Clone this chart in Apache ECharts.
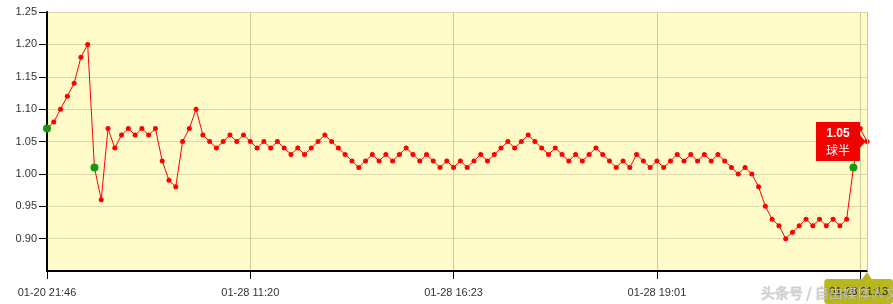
<!DOCTYPE html>
<html>
<head>
<meta charset="utf-8">
<script src="https://cdn.jsdelivr.net/npm/echarts@6/dist/echarts.min.js"></script>
<style>
html,body{margin:0;padding:0;background:#fff;}
#c{width:893px;height:304px;}
</style>
</head>
<body>
<div id="c"></div>
<script>
// ---- data ----
const values = [
  1.07,1.08,1.10,1.12,1.14,1.18,1.20,1.01,0.96,1.07,
  1.04,1.06,1.07,1.06,1.07,1.06,1.07,1.02,0.99,0.98,
  1.05,1.07,1.10,1.06,1.05,1.04,1.05,1.06,1.05,1.06,
  1.05,1.04,1.05,1.04,1.05,1.04,1.03,1.04,1.03,1.04,
  1.05,1.06,1.05,1.04,1.03,1.02,1.01,1.02,1.03,1.02,
  1.03,1.02,1.03,1.04,1.03,1.02,1.03,1.02,1.01,1.02,
  1.01,1.02,1.01,1.02,1.03,1.02,1.03,1.04,1.05,1.04,
  1.05,1.06,1.05,1.04,1.03,1.04,1.03,1.02,1.03,1.02,
  1.03,1.04,1.03,1.02,1.01,1.02,1.01,1.03,1.02,1.01,
  1.02,1.01,1.02,1.03,1.02,1.03,1.02,1.03,1.02,1.03,
  1.02,1.01,1.00,1.01,1.00,0.98,0.95,0.93,0.92,0.90,
  0.91,0.92,0.93,0.92,0.93,0.92,0.93,0.92,0.93,1.01,
  1.07,1.05
];
const highlightIdx = [0, 7, 119];
const tickIndex = [0, 30, 60, 90, 120];
const tickLabels = ['01-20 21:46', '01-28 11:20', '01-28 16:23', '01-28 19:01', '01-28 21:13'];
const pointerLabel = '01-28 21:13';
const tipValue = '1.05';
const tipText = '球半';
const watermark = '头条号 / 自由媒体人文文';
const yMin = 0.85, yMax = 1.25, yStep = 0.05;

// ---- build ----
const lastIdx = values.length - 1;
const categories = values.map((v, i) => {
  const k = tickIndex.indexOf(i);
  if (k >= 0) return tickLabels[k];
  if (i === lastIdx) return pointerLabel;
  return 'p' + i;
});
const seriesData = values.map((v, i) =>
  highlightIdx.indexOf(i) >= 0
    ? { value: v, symbolSize: 8, itemStyle: { color: '#129a12' } }
    : v
);
const showTick = (idx) => tickIndex.indexOf(idx) >= 0;

const chart = echarts.init(document.getElementById('c'), null, { renderer: 'canvas' });
chart.setOption({
  animation: false,
  backgroundColor: '#fff',
  grid: { left: 47, right: 26, top: 12, bottom: 33, show: true, backgroundColor: '#fffcca', borderWidth: 0 },
  xAxis: {
    type: 'category',
    data: categories,
    boundaryGap: false,
    axisLine: { lineStyle: { color: '#000', width: 2 } },
    axisTick: { interval: showTick, length: 8, lineStyle: { color: '#000', width: 1 } },
    axisLabel: { interval: showTick, color: '#333', fontSize: 11, fontFamily: 'Liberation Sans, Arial, sans-serif', margin: 16 },
    splitLine: { show: true, interval: showTick, lineStyle: { color: '#cfcca0', width: 1 } },
    axisPointer: {
      show: true, type: 'line', value: lastIdx, status: 'show', snap: false, triggerTooltip: false,
      lineStyle: { color: '#d8d23a', width: 1, type: 'solid' },
      label: {
        show: true, formatter: () => pointerLabel, backgroundColor: '#b9b71c', color: '#222',
        fontSize: 11, fontFamily: 'Liberation Sans, Arial, sans-serif', padding: [7, 5, 7, 5], margin: 9
      },
      handle: { show: false }
    }
  },
  yAxis: {
    type: 'value', min: yMin, max: yMax, interval: yStep,
    axisLine: { show: true, lineStyle: { color: '#000', width: 2 } },
    axisTick: { show: true, length: 8, lineStyle: { color: '#000', width: 1 } },
    axisLabel: { color: '#333', fontSize: 11, fontFamily: 'Liberation Sans, Arial, sans-serif', margin: 10, showMinLabel: false,
      formatter: (v) => v.toFixed(2) },
    splitLine: { show: true, lineStyle: { color: '#dcd8aa', width: 1 } }
  },
  series: [{
    type: 'line',
    data: seriesData,
    symbol: 'circle',
    symbolSize: 5,
    showAllSymbol: true,
    lineStyle: { color: '#f00', width: 1 },
    itemStyle: { color: '#f00' },
    z: 3
  }]
});

// annotations computed from the chart's own scales
const p = chart.convertToPixel({ xAxisIndex: 0, yAxisIndex: 0 }, [lastIdx, values[lastIdx]]);
const axisY = chart.convertToPixel({ yAxisIndex: 0 }, yMin);
const bw = 44, bh = 39, gap = 7;
const bx = p[0] - gap - bw, by = p[1] - bh / 2;
chart.setOption({
  graphic: [
    { type: 'rect', z: 100, shape: { x: bx, y: by, width: bw, height: bh }, style: { fill: '#f40000' } },
    { type: 'polygon', z: 100, shape: { points: [[bx + bw, p[1] - 6.5], [p[0] - 1.5, p[1]], [bx + bw, p[1] + 6.5]] }, style: { fill: '#f40000' } },
    { type: 'text', z: 101, x: bx + bw / 2, y: by + 12, style: { text: tipValue, fill: '#fff', font: 'bold 12px Liberation Sans, Arial, sans-serif', align: 'center', verticalAlign: 'middle' } },
    { type: 'text', z: 101, x: bx + bw / 2, y: by + 28, style: { text: tipText, fill: '#fff', font: '12px Noto Sans CJK SC, sans-serif', align: 'center', verticalAlign: 'middle' } },
    { type: 'polygon', z: 100, shape: { points: [[p[0] - 6, axisY + 10], [p[0], axisY + 1], [p[0] + 6, axisY + 10]] }, style: { fill: '#b9b71c' } },
    { type: 'text', z: 200, x: 761, y: 293, style: { text: watermark, fill: 'rgba(205,205,205,0.8)', stroke: 'rgba(120,120,120,0.3)', lineWidth: 1, font: '14px Noto Sans CJK SC, sans-serif', verticalAlign: 'middle' } }
  ]
});
</script>
</body>
</html>
